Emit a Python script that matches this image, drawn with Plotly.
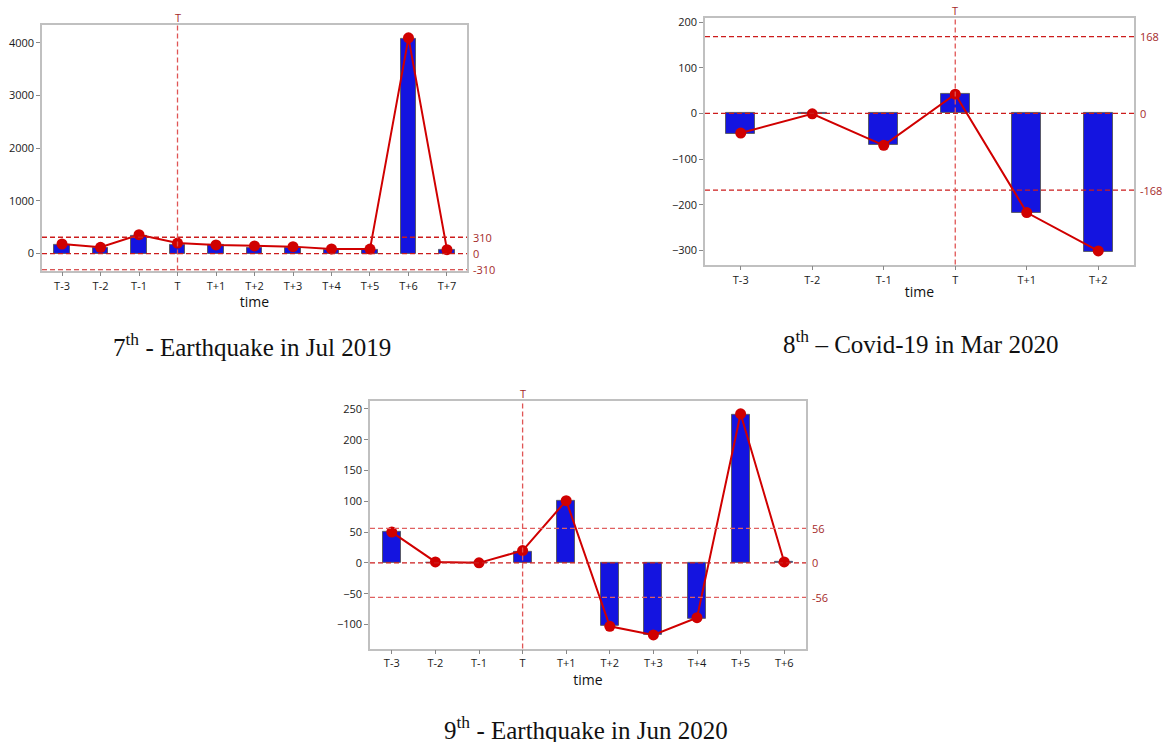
import plotly.graph_objects as go

# ---------------- data ----------------
cats1 = ["T-3", "T-2", "T-1", "T", "T+1", "T+2", "T+3", "T+4", "T+5", "T+6", "T+7"]
bars1 = [170, 107, 340, 170, 170, 110, 110, 75, 75, 4075, 75]
line1 = [182, 120, 358, 200, 164, 145, 132, 88, 85, 4094, 75]
limit1 = 310
yticks1 = [0, 1000, 2000, 3000, 4000]
caption1 = "7<sup>th</sup> - Earthquake in Jul 2019"

cats2 = ["T-3", "T-2", "T-1", "T", "T+1", "T+2"]
bars2 = [-45, -2, -70, 43, -217, -303]
line2 = [-43, -1, -70, 42, -217, -301]
limit2 = 168
yticks2 = [-300, -200, -100, 0, 100, 200]
caption2 = "8<sup>th</sup> – Covid-19 in Mar 2020"

cats3 = ["T-3", "T-2", "T-1", "T", "T+1", "T+2", "T+3", "T+4", "T+5", "T+6"]
bars3 = [50, 0, 0, 18, 101, -103, -117, -91, 241, 2]
line3 = [50, 1.5, 0, 20, 101, -103, -117, -89, 242, 1.5]
limit3 = 56
yticks3 = [-100, -50, 0, 50, 100, 150, 200, 250]
caption3 = "9<sup>th</sup> - Earthquake in Jun 2020"

event_cat = "T"

W, H = 1172, 742

BAR_COLOR = "#1414e0"
BAR_LINE = "#5a5a6a"
LINE_COLOR = "#d00000"
REF_COLOR = "#cc1c1c"
VLINE_COLOR = "#e05555"
LABEL_COLOR = "#a52a2a"
FRAME = "#c0c0c0"
TICKFONT = dict(family="Open Sans, Noto Sans, sans-serif", size=11, color="#1a1a1a")

panels = [
    dict(cats=cats1, bars=bars1, line=line1, limit=limit1, yticks=yticks1,
         yrange=[-322, 4340], xrange=[-0.52, 10.52], box=(42, 467, 21, 268),
         caption=caption1, cap=(252, 343), hline_colors=(REF_COLOR, REF_COLOR, REF_COLOR)),
    dict(cats=cats2, bars=bars2, line=line2, limit=limit2, yticks=yticks2,
         yrange=[-331, 209], xrange=[-0.5, 5.5], box=(705, 1134, 14, 262),
         caption=caption2, cap=(920, 340), hline_colors=(REF_COLOR, REF_COLOR, REF_COLOR)),
    dict(cats=cats3, bars=bars3, line=line3, limit=limit3, yticks=yticks3,
         yrange=[-139, 263], xrange=[-0.5, 9.5], box=(370, 806, 399, 648),
         caption=caption3, cap=(586, 728), hline_colors=("#e06060", REF_COLOR, "#e06060")),
]

fig = go.Figure()
shapes = []
annotations = []

for i, p in enumerate(panels, start=1):
    xa = "x" if i == 1 else f"x{i}"
    ya = "y" if i == 1 else f"y{i}"
    xkey = "xaxis" if i == 1 else f"xaxis{i}"
    ykey = "yaxis" if i == 1 else f"yaxis{i}"
    l, r, t, b = p["box"]

    fig.add_trace(go.Bar(
        x=p["cats"], y=p["bars"], xaxis=xa, yaxis=ya, width=0.41,
        marker=dict(color=BAR_COLOR, line=dict(color=BAR_LINE, width=1)),
        showlegend=False, hoverinfo="x+y"))
    fig.add_trace(go.Scatter(
        x=p["cats"], y=p["line"], xaxis=xa, yaxis=ya, mode="lines+markers",
        line=dict(color=LINE_COLOR, width=2),
        marker=dict(color=LINE_COLOR, size=11),
        showlegend=False))

    fig.update_layout(**{
        xkey: dict(domain=[l / W, r / W], anchor=ya, range=p["xrange"],
                   type="category", showline=True, mirror=True, linecolor=FRAME,
                   linewidth=1.5, ticks="outside", ticklen=4, tickcolor="#888",
                   showgrid=False, zeroline=False, tickfont=TICKFONT,
                   title=dict(text="time", font=dict(family="Open Sans, sans-serif",
                                                      size=14, color="#111"),
                              standoff=2)),
        ykey: dict(domain=[1 - b / H, 1 - t / H], anchor=xa, range=p["yrange"],
                   showline=True, mirror=True, linecolor=FRAME, linewidth=1.5,
                   ticks="outside", ticklen=4, tickcolor="#888", tickvals=p["yticks"],
                   showgrid=False, zeroline=False, tickfont=TICKFONT),
    })

    xd = f"{xa} domain"
    for val, col in zip([p["limit"], 0, -p["limit"]], p["hline_colors"]):
        shapes.append(dict(type="line", xref=xd, yref=ya, x0=0, x1=1, y0=val, y1=val,
                           line=dict(color=col, width=1.3, dash="5px,3px"), layer="above"))
        annotations.append(dict(xref=xd, yref=ya, x=1, y=val, text=str(val),
                                showarrow=False, xanchor="left", xshift=4,
                                font=dict(family="Open Sans, sans-serif", size=11,
                                          color=LABEL_COLOR)))
    # event line
    shapes.append(dict(type="line", xref=xa, yref=f"{ya} domain", x0=event_cat, x1=event_cat,
                       y0=0, y1=1, line=dict(color=VLINE_COLOR, width=1.3, dash="5px,3px"),
                       layer="above"))
    annotations.append(dict(xref=xa, yref=f"{ya} domain", x=event_cat, y=1, yanchor="bottom",
                            text="T", showarrow=False, yshift=-2,
                            font=dict(family="Open Sans, sans-serif", size=11,
                                      color=LABEL_COLOR)))
    # caption
    cx, cy = p["cap"]
    annotations.append(dict(xref="paper", yref="paper", x=cx / W, y=1 - cy / H,
                            text=p["caption"], showarrow=False, xanchor="center",
                            yanchor="middle",
                            font=dict(family="Liberation Serif, Times New Roman, serif",
                                      size=25, color="#111")))

fig.update_layout(width=W, height=H, margin=dict(l=0, r=0, t=0, b=0),
                  paper_bgcolor="white", plot_bgcolor="white",
                  shapes=shapes, annotations=annotations, bargap=0)

fig.write_html("out.html", config={"displayModeBar": False},
               post_script="document.body.style.margin='0';"
                           "document.body.style.overflow='hidden';")
